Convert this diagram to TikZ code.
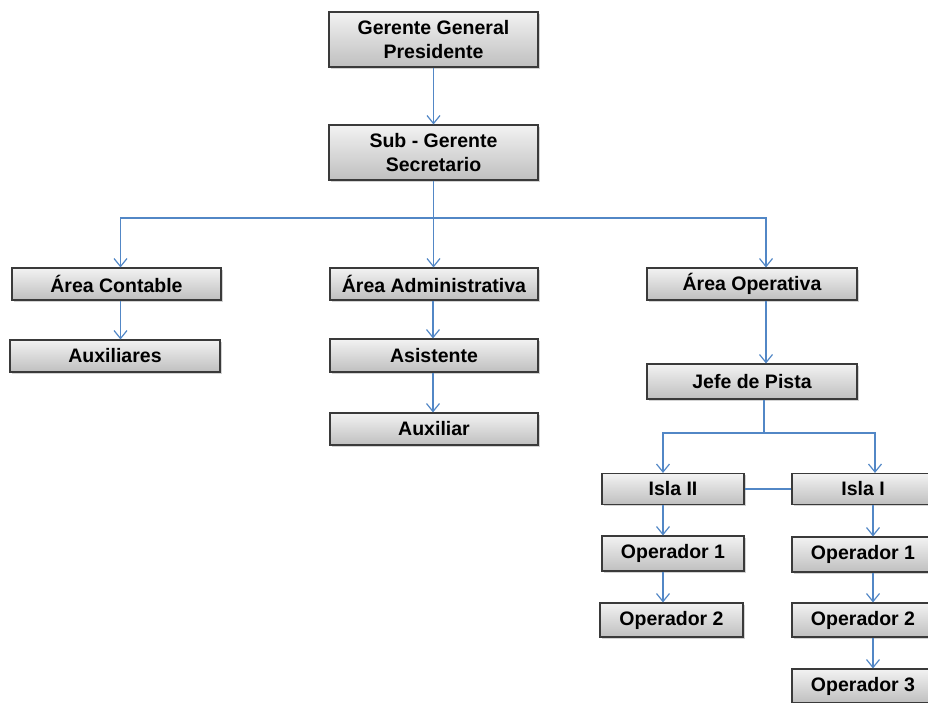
\documentclass[tikz,border=0pt]{standalone}
\usepackage{fontspec}
\setmainfont{Liberation Sans}
\usetikzlibrary{arrows.meta,shadows}
\definecolor{linkblue}{HTML}{5287C6}
\definecolor{boxedge}{HTML}{3A3A3A}
\tikzset{
  orgbox/.style={draw=boxedge, line width=1.1pt, rectangle, inner sep=0pt,
    top color=black!5, bottom color=black!25,
    drop shadow={shadow xshift=1.8pt, shadow yshift=-1.8pt, opacity=0.35},
    font=\bfseries\fontsize{19.5}{24}\selectfont, align=center,
    minimum height=33pt},
  link/.style={draw=linkblue, line width=1.2pt},
  arr/.style={link, -{Straight Barb[length=8pt,width=13pt,line width=1.2pt]}}
}
\begin{document}
\begin{tikzpicture}[x=1pt,y=-1pt]
\useasboundingbox (0,0) rectangle (928,702);
\clip (0,0) rectangle (928,702);
% boxes
\node[orgbox, minimum width=209pt, minimum height=55pt] (gg) at (433.5,39.5) {Gerente General\\Presidente};
\node[orgbox, minimum width=209pt, minimum height=55pt] (sg) at (433.5,152.5) {Sub - Gerente\\Secretario};
\node[orgbox, minimum width=209pt, minimum height=32pt] (ac) at (116.5,284) {Área Contable};
\node[orgbox, minimum width=210pt, minimum height=32pt] (aux) at (115,356) {Auxiliares};
\node[orgbox, minimum width=208pt, minimum height=32pt] (aa) at (434,284) {Área Administrativa};
\node[orgbox, minimum width=208pt] (as) at (434,355.5) {Asistente};
\node[orgbox, minimum width=208pt, minimum height=32pt] (al) at (434,429) {Auxiliar};
\node[orgbox, minimum width=210pt, minimum height=32pt] (ao) at (752,284) {Área Operativa};
\node[orgbox, minimum width=210pt, minimum height=35pt] (jp) at (752,381.5) {Jefe de Pista};
\node[orgbox, minimum width=142pt, minimum height=31pt] (i2) at (673,489) {Isla II};
\node[orgbox, minimum width=142pt, minimum height=35pt] (o21) at (673,553.5) {Operador 1};
\node[orgbox, minimum width=143pt, minimum height=34pt] (o22) at (671.5,620) {Operador 2};
\node[orgbox, minimum width=142pt, minimum height=31pt] (i1) at (863,489) {Isla I};
\node[orgbox, minimum width=142pt, minimum height=35pt] (o11) at (863,554.5) {Operador 1};
\node[orgbox, minimum width=142pt, minimum height=34pt] (o12) at (863,620) {Operador 2};
\node[orgbox, minimum width=142pt, minimum height=34pt] (o13) at (863,686) {Operador 3};
% connectors
\coordinate (hub) at (433.5,218);
\coordinate (hub2) at (764,433);
\draw[arr] (gg.south) -- (sg.north);
\draw[arr] (sg.south) -- (sg.south |- aa.north);
\draw[arr] (hub) -| ([xshift=4pt]ac.north);
\draw[arr] (hub) -| ([xshift=14pt]ao.north);
\draw[arr] ([xshift=4pt]ac.south) -- ([xshift=4pt]ac.south |- aux.north);
\draw[arr] ([xshift=-1pt]aa.south) -- ([xshift=-1pt]as.north);
\draw[arr] ([xshift=-1pt]as.south) -- ([xshift=-1pt]al.north);
\draw[arr] ([xshift=14pt]ao.south) -- ([xshift=14pt]jp.north);
\draw[link] (hub2 |- jp.south) -- (hub2);
\draw[arr] (hub2) -| ([xshift=-10pt]i2.north);
\draw[arr] (hub2) -| ([xshift=12pt]i1.north);
\draw[link] (i2.east) -- (i1.west);
\draw[arr] ([xshift=-10pt]i2.south) -- ([xshift=-10pt]o21.north);
\draw[arr] ([xshift=-10pt]o21.south) -- ([xshift=-10pt]o21.south |- o22.north);
\draw[arr] ([xshift=10pt]i1.south) -- ([xshift=10pt]o11.north);
\draw[arr] ([xshift=10pt]o11.south) -- ([xshift=10pt]o12.north);
\draw[arr] ([xshift=10pt]o12.south) -- ([xshift=10pt]o13.north);
\end{tikzpicture}
\end{document}
